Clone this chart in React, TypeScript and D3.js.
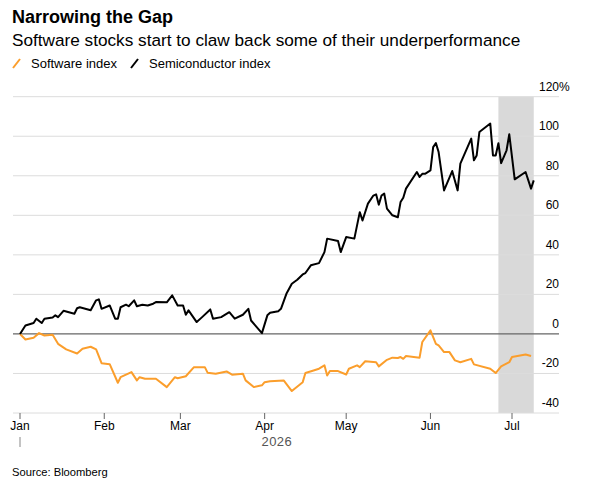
import * as d3 from 'd3';
import React, { useEffect, useRef } from 'react';

// Semiconductor index, % change since start of year
const semiDates = [
  '2026-01-01', '2026-01-03', '2026-01-06', '2026-01-07', '2026-01-09', '2026-01-10', '2026-01-13',
  '2026-01-14', '2026-01-15', '2026-01-17', '2026-01-21', '2026-01-22', '2026-01-23', '2026-01-27',
  '2026-01-29', '2026-01-30', '2026-01-31', '2026-02-03', '2026-02-05', '2026-02-06', '2026-02-07',
  '2026-02-09', '2026-02-10', '2026-02-12', '2026-02-13', '2026-02-15', '2026-02-17', '2026-02-19',
  '2026-02-20', '2026-02-24', '2026-02-26', '2026-02-28', '2026-03-02', '2026-03-03', '2026-03-04',
  '2026-03-07', '2026-03-09', '2026-03-12', '2026-03-13', '2026-03-16', '2026-03-19', '2026-03-21',
  '2026-03-24', '2026-03-26', '2026-03-27', '2026-03-31', '2026-04-02', '2026-04-03', '2026-04-06',
  '2026-04-07', '2026-04-09', '2026-04-11', '2026-04-13', '2026-04-15', '2026-04-16', '2026-04-18',
  '2026-04-21', '2026-04-23', '2026-04-24', '2026-04-28', '2026-04-29', '2026-05-01', '2026-05-04',
  '2026-05-06', '2026-05-07', '2026-05-09', '2026-05-11', '2026-05-12', '2026-05-13', '2026-05-14',
  '2026-05-15', '2026-05-16', '2026-05-18', '2026-05-20', '2026-05-21', '2026-05-22', '2026-05-23',
  '2026-05-27', '2026-05-28', '2026-05-29', '2026-05-30', '2026-06-01', '2026-06-02', '2026-06-03',
  '2026-06-04', '2026-06-06', '2026-06-09', '2026-06-11', '2026-06-12', '2026-06-16', '2026-06-17',
  '2026-06-18', '2026-06-19', '2026-06-23', '2026-06-24', '2026-06-25', '2026-06-26', '2026-06-27',
  '2026-06-29', '2026-06-30', '2026-07-02', '2026-07-06', '2026-07-08', '2026-07-09',
];
const semiValues = [
  0, 4.3, 5.5, 7.7, 5.5, 7.7, 8.3,
  9.4, 8.5, 11.7, 10.2, 13, 13.5, 12,
  17, 17.5, 12.7, 14.4, 7.7, 7.7, 13.5,
  14.8, 14, 17, 14, 14.8, 14.4, 15.3,
  16.1, 16, 19.5, 14.4, 14.4, 9.7, 11.9,
  6, 8.5, 12.4, 7.7, 8.5, 11, 7.7,
  9.7, 12.7, 6.8, 0.4, 9.4, 10.7, 11.5,
  12.7, 20.3, 25.4, 27.4, 30.1, 30.8, 34.7,
  35.8, 41.4, 48.2, 47, 41.4, 49, 48.2,
  61.6, 57.4, 65.9, 70, 70.6, 65.4, 70,
  71, 63.4, 60, 59, 66.7, 68.9, 73.5,
  81.9, 79.4, 81, 81, 82.7, 94.5, 96.5,
  92, 72.6, 82.4, 72.6, 86.1, 98.8, 87.8,
  90.3, 102.1, 106.4, 90.3, 90.3, 96.5, 86.4,
  92.9, 101, 78.2, 81.9, 73.5, 77.7,
];

// Software index, % change since start of year
const softDates = [
  '2026-01-01', '2026-01-03', '2026-01-06', '2026-01-08', '2026-01-10', '2026-01-13', '2026-01-15',
  '2026-01-18', '2026-01-22', '2026-01-24', '2026-01-27', '2026-01-29', '2026-01-31', '2026-02-03',
  '2026-02-06', '2026-02-07', '2026-02-11', '2026-02-13', '2026-02-14', '2026-02-16', '2026-02-20',
  '2026-02-24', '2026-02-27', '2026-02-28', '2026-03-03', '2026-03-06', '2026-03-10', '2026-03-11',
  '2026-03-14', '2026-03-18', '2026-03-20', '2026-03-24', '2026-03-25', '2026-03-28', '2026-03-31',
  '2026-04-01', '2026-04-03', '2026-04-08', '2026-04-11', '2026-04-15', '2026-04-16', '2026-04-19',
  '2026-04-21', '2026-04-23', '2026-04-24', '2026-04-25', '2026-04-28', '2026-05-01', '2026-05-02',
  '2026-05-05', '2026-05-06', '2026-05-08', '2026-05-12', '2026-05-13', '2026-05-16', '2026-05-18',
  '2026-05-20', '2026-05-21', '2026-05-22', '2026-05-23', '2026-05-28', '2026-05-29', '2026-06-01',
  '2026-06-03', '2026-06-04', '2026-06-06', '2026-06-08', '2026-06-10', '2026-06-12', '2026-06-16',
  '2026-06-17', '2026-06-23', '2026-06-25', '2026-06-27', '2026-06-30', '2026-07-01', '2026-07-06',
  '2026-07-08',
];
const softValues = [
  0, -2.8, -1.9, 0.4, -0.8, -0.4, -5,
  -7.8, -9.9, -7.5, -6.5, -7.8, -14.8, -15.3,
  -24.7, -21.9, -19.3, -23.5, -21.9, -22.7, -22.7,
  -26.9, -21.9, -22.4, -21.4, -16.8, -16.8, -19.6,
  -20.1, -19, -20.6, -20.1, -23.5, -26.9, -26,
  -24.4, -23.9, -23.5, -28.9, -24.4, -19.8, -18.5,
  -17.6, -15.9, -21, -18.8, -18.8, -20.5, -17.6,
  -15.9, -16.8, -13.8, -14.3, -16.4, -13.1, -12,
  -12.2, -11.7, -12.6, -11.2, -12, -4.1, 1.8,
  -5, -5.8, -9.2, -9.2, -13.4, -14.3, -12.6,
  -15.4, -17.6, -19.8, -16.4, -14.3, -11.7, -10.4,
  -11.2,
];

const yTicks = [-40, -20, 0, 20, 40, 60, 80, 100, 120];
const monthTicks = ['2026-01-01', '2026-02-01', '2026-03-01', '2026-04-01', '2026-05-01', '2026-06-01', '2026-07-01'];
const shadeSpan = ['2026-06-26', '2026-07-09'];

const W = 613;
const H = 481;
const FONT = '"Liberation Sans", Arial, Helvetica, sans-serif';
const ORANGE = '#fb9e2c';

const parse = d3.timeParse('%Y-%m-%d');

export default function App() {
  const svgRef = useRef<SVGSVGElement>(null);

  useEffect(() => {
    const svg = d3.select(svgRef.current);
    svg.selectAll('*').remove();

    const left = 13;
    const right = 559;

    const x = d3
      .scaleTime()
      .domain([parse('2026-01-01')!, parse('2026-07-01')!])
      .range([20, 512]);
    const y = d3.scaleLinear().domain([-40, 120]).range([413, 96.7]);

    const semi = semiDates.map((d, i) => ({ date: parse(d)!, value: semiValues[i] }));
    const soft = softDates.map((d, i) => ({ date: parse(d)!, value: softValues[i] }));

    // header
    svg
      .append('text')
      .attr('x', 12)
      .attr('y', 23)
      .attr('font-size', 18)
      .attr('font-weight', 'bold')
      .text('Narrowing the Gap');
    svg
      .append('text')
      .attr('x', 12)
      .attr('y', 46)
      .attr('font-size', 17.2)
      .text('Software stocks start to claw back some of their underperformance');

    // legend
    const legend = [
      { label: 'Software index', color: ORANGE, x: 13 },
      { label: 'Semiconductor index', color: '#000', x: 131 },
    ];
    const lg = svg.append('g').selectAll('g').data(legend).join('g');
    lg.append('line')
      .attr('x1', d => d.x)
      .attr('x2', d => d.x + 7)
      .attr('y1', 68)
      .attr('y2', 59)
      .attr('stroke', d => d.color)
      .attr('stroke-width', 2);
    lg.append('text')
      .attr('x', d => d.x + 18)
      .attr('y', 68)
      .attr('font-size', 13)
      .text(d => d.label);

    // highlighted period
    const [s0, s1] = shadeSpan.map(d => parse(d)!);
    svg
      .append('rect')
      .attr('x', x(s0))
      .attr('y', y(120))
      .attr('width', x(s1) - x(s0))
      .attr('height', y(-40) - y(120))
      .attr('fill', '#d9d9d9');

    // gridlines
    svg
      .append('g')
      .selectAll('line')
      .data(yTicks)
      .join('line')
      .attr('x1', left)
      .attr('x2', right)
      .attr('y1', d => y(d))
      .attr('y2', d => y(d))
      .attr('stroke', d => (d === 0 ? '#666' : '#dcdcdc'))
      .attr('stroke-width', d => (d === 0 ? 1.2 : 1));

    // y labels
    svg
      .append('g')
      .selectAll('text')
      .data(yTicks)
      .join('text')
      .attr('x', right)
      .attr('y', d => y(d) - 6)
      .attr('text-anchor', 'end')
      .attr('font-size', 12)
      .text(d => d);
    svg
      .append('text')
      .attr('x', right)
      .attr('y', y(120) - 6)
      .attr('font-size', 12)
      .text('%');

    // x axis
    const months = monthTicks.map(d => parse(d)!);
    const xa = svg.append('g');
    xa.selectAll('line')
      .data(months)
      .join('line')
      .attr('x1', d => x(d))
      .attr('x2', d => x(d))
      .attr('y1', y(-40))
      .attr('y2', y(-40) + 6)
      .attr('stroke', '#666');
    xa.selectAll('text')
      .data(months)
      .join('text')
      .attr('x', d => x(d))
      .attr('y', 430)
      .attr('text-anchor', 'middle')
      .attr('font-size', 12)
      .text(d => d3.timeFormat('%b')(d));
    xa.append('line')
      .attr('x1', x(months[0]))
      .attr('x2', x(months[0]))
      .attr('y1', 437)
      .attr('y2', 447)
      .attr('stroke', '#888');
    xa.append('text')
      .attr('x', (x(semi[0].date) + x(semi[semi.length - 1].date)) / 2)
      .attr('y', 446)
      .attr('text-anchor', 'middle')
      .attr('font-size', 13)
      .attr('letter-spacing', 0.4)
      .attr('fill', '#555')
      .text('2026');

    // series
    const line = d3
      .line<{ date: Date; value: number }>()
      .x(d => x(d.date))
      .y(d => y(d.value));
    svg
      .append('path')
      .datum(soft)
      .attr('d', line)
      .attr('fill', 'none')
      .attr('stroke', ORANGE)
      .attr('stroke-width', 2)
      .attr('stroke-linejoin', 'round');
    svg
      .append('path')
      .datum(semi)
      .attr('d', line)
      .attr('fill', 'none')
      .attr('stroke', '#000')
      .attr('stroke-width', 2)
      .attr('stroke-linejoin', 'round');

    svg
      .append('text')
      .attr('x', 12)
      .attr('y', 476)
      .attr('font-size', 11.2)
      .text('Source: Bloomberg');
  }, []);

  return (
    <svg
      ref={svgRef}
      width={W}
      height={H}
      fontFamily={FONT}
      style={{ position: 'absolute', left: 0, top: 0, background: '#fff' }}
    />
  );
}
